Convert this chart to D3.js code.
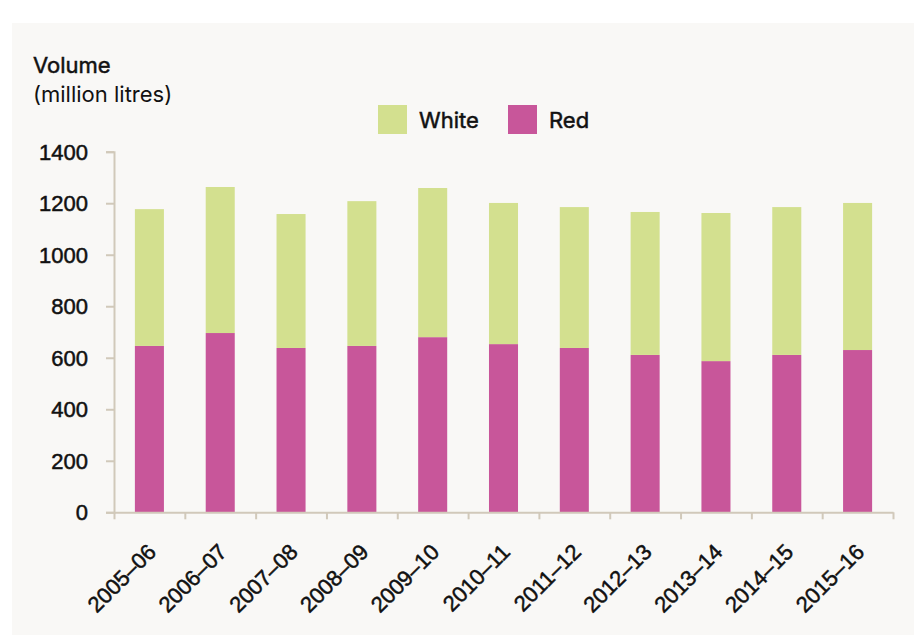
<!DOCTYPE html>
<html>
<head>
<meta charset="utf-8">
<script src="https://cdn.jsdelivr.net/npm/d3@7"></script>
<style>
  html, body { margin: 0; padding: 0; background: #ffffff; }
  svg { display: block; font-family: "Inter", "Noto Sans", sans-serif; }
  .axis path, .axis line { stroke: #d1c9ba; stroke-width: 2; }
  .axis text, .medium { fill: #111; stroke: #111; stroke-width: 0.5px; }
  .axis text { font-size: 22px; font-weight: 400; }
</style>
</head>
<body>
<svg id="chart" width="914" height="635"></svg>
<script>
// wine volumes, million litres
const years = ['2005–06', '2006–07', '2007–08', '2008–09', '2009–10', '2010–11',
               '2011–12', '2012–13', '2013–14', '2014–15', '2015–16']
const red   = [646, 696, 638, 646, 680, 653, 638, 611, 587, 611, 630]
const white = [531, 567, 520, 562, 579, 548, 547, 555, 575, 574, 571]
const yTicks = [0, 200, 400, 600, 800, 1000, 1200, 1400]

const series = ['red', 'white']
const colors = {red: '#c8569a', white: '#d3e08f'}
const legendLabels = [{key: 'white', label: 'White'}, {key: 'red', label: 'Red'}]

const table = years.map((y, i) => ({year: y, red: red[i], white: white[i]}))

const svg = d3.select('#chart')

// panel
svg.append('rect')
    .attr('x', 12)
    .attr('y', 23)
    .attr('width', 914 - 12)
    .attr('height', 635 - 23)
    .attr('fill', '#f9f8f6')

const plotLeft = 114, plotRight = 893, plotTop = 151.7, plotBottom = 512.3

const x = d3.scaleBand()
    .domain(years)
    .range([plotLeft, plotRight])
    .paddingInner(0.59)
    .paddingOuter(0.295)

const xEdge = d3.scaleLinear().domain([0, years.length]).range([plotLeft, plotRight])

const y = d3.scaleLinear().domain([0, 1400]).range([plotBottom, plotTop])

const stacked = d3.stack().keys(series)(table)

svg.append('g')
  .selectAll('g')
  .data(stacked)
  .join('g')
    .attr('fill', d => colors[d.key])
  .selectAll('rect')
  .data(d => d)
  .join('rect')
    .attr('x', d => x(d.data.year))
    .attr('width', x.bandwidth())
    .attr('y', d => y(d[1]))
    .attr('height', d => y(d[0]) - y(d[1]))

// y axis
const yAxis = svg.append('g')
    .attr('class', 'axis')
    .attr('transform', `translate(${plotLeft},0)`)
    .call(d3.axisLeft(y).tickValues(yTicks).tickSize(8).tickSizeOuter(8).tickPadding(18).tickFormat(d3.format('d')))
yAxis.selectAll('text').attr('dy', '0.34em')

// x axis ticks at band edges
svg.append('g')
    .attr('class', 'axis')
    .attr('transform', `translate(0,${plotBottom})`)
    .call(d3.axisBottom(xEdge).ticks(years.length).tickSize(7).tickSizeOuter(0).tickFormat(''))

// x labels
svg.append('g')
    .attr('class', 'axis')
    .attr('transform', `translate(0,${plotBottom})`)
    .call(d3.axisBottom(x).tickSize(0).tickSizeOuter(0))
    .call(g => g.select('.domain').remove())
    .call(g => g.selectAll('text')
        .attr('y', 0)
        .attr('dy', 0)
        .attr('text-anchor', 'end')
        .attr('transform', 'translate(8,41) rotate(-45)'))

// y title
const title = svg.append('text')
    .attr('x', 33)
    .attr('fill', '#111')
    .style('font-size', '22px')
title.append('tspan')
    .attr('x', 33)
    .attr('y', 73)
    .attr('class', 'medium')
    .text('Volume')
title.append('tspan')
    .attr('x', 33)
    .attr('y', 102)
    .text('(million litres)')

// legend
const legend = svg.append('g')
    .attr('transform', 'translate(378,105)')
const item = legend.selectAll('g')
  .data(legendLabels)
  .join('g')
    .attr('transform', (d, i) => `translate(${i * 130},0)`)
item.append('rect')
    .attr('width', 29)
    .attr('height', 29)
    .attr('fill', d => colors[d.key])
item.append('text')
    .attr('class', 'medium')
    .attr('x', 41)
    .attr('y', 23)
    .style('font-size', '22px')
    .text(d => d.label)
</script>
</body>
</html>
